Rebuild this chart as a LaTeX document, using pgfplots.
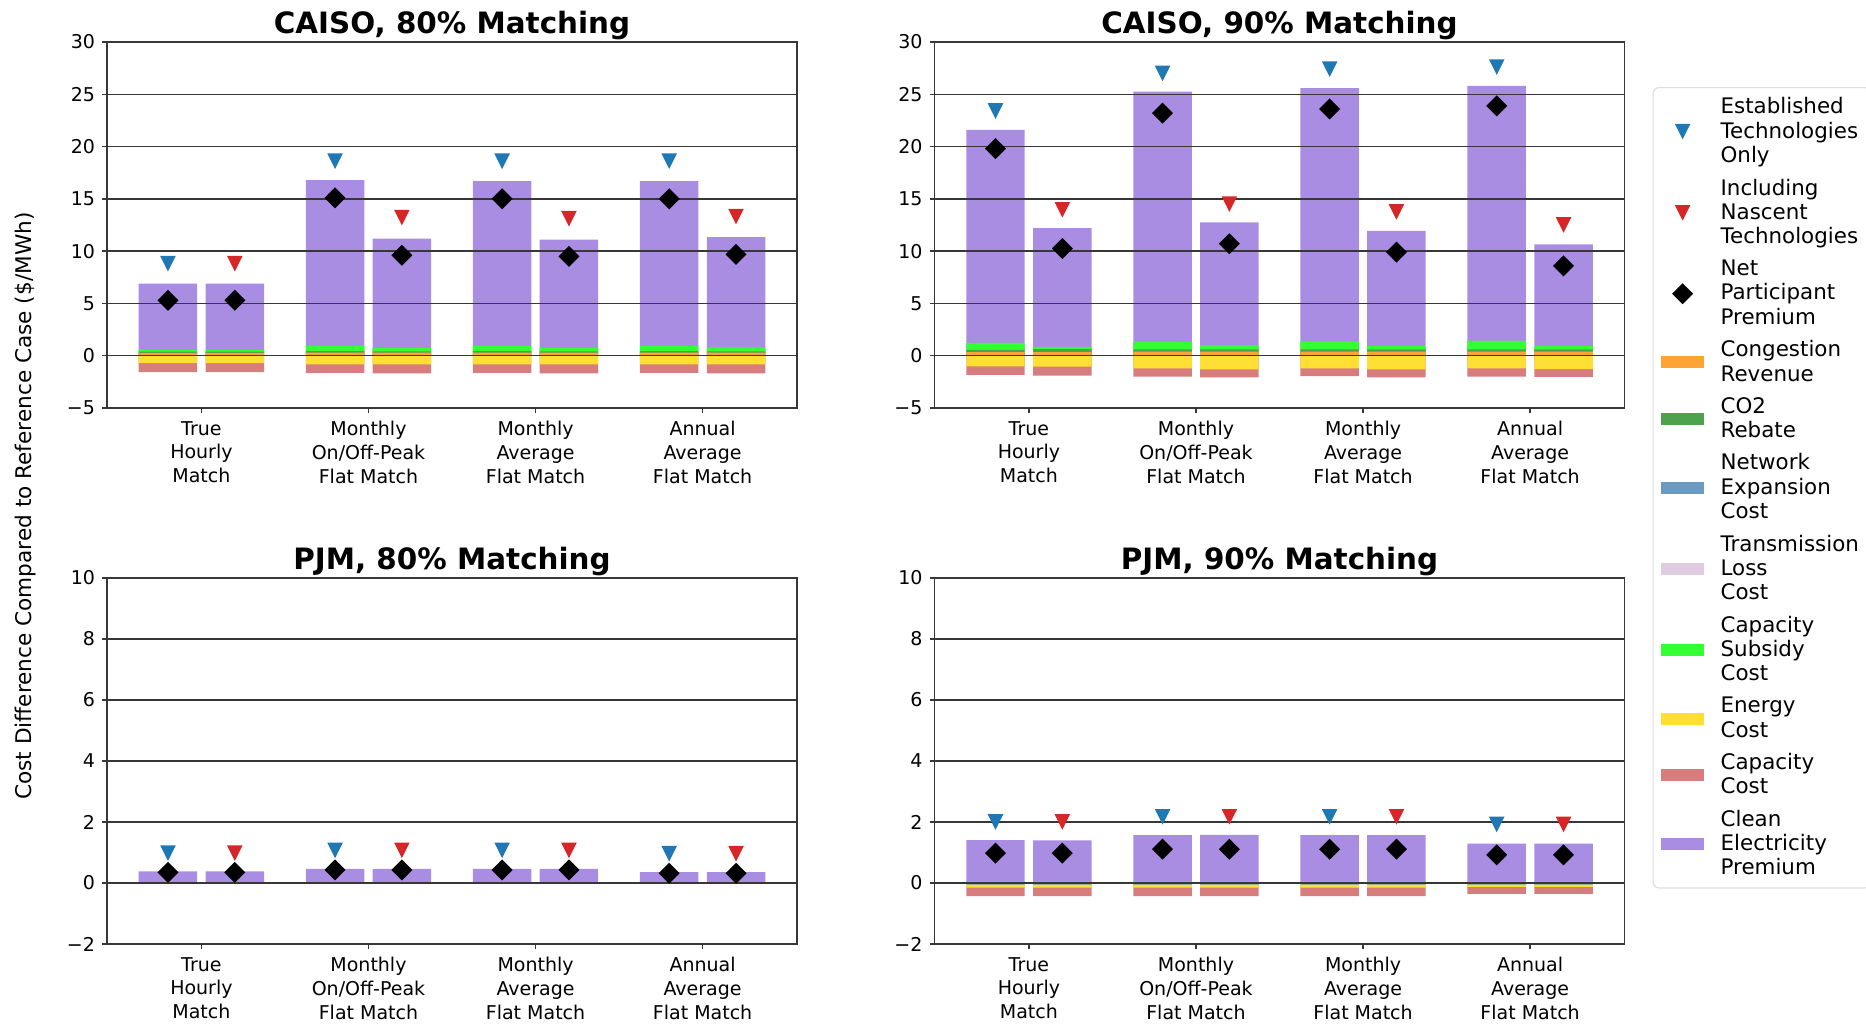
\documentclass[border=0pt]{standalone}
\usepackage{pgfplots}
\usepackage{pgfplotstable}
\pgfplotsset{compat=1.18}
\usepackage{fontspec}
\setmainfont{DejaVu Sans}

\definecolor{cPurple}{RGB}{169,141,226}
\definecolor{cLime}{RGB}{51,255,51}
\definecolor{cForest}{RGB}{78,162,78}
\definecolor{cSteel}{RGB}{107,155,195}
\definecolor{cThistle}{RGB}{224,204,224}
\definecolor{cOrange}{RGB}{255,163,51}
\definecolor{cGold}{RGB}{255,223,51}
\definecolor{cRed}{RGB}{215,125,125}
\definecolor{tabblue}{RGB}{31,119,180}
\definecolor{tabred}{RGB}{214,39,40}
\definecolor{axgray}{RGB}{55,55,55}

\pgfdeclareplotmark{dtri}{\pgfpathmoveto{\pgfqpoint{0pt}{-\pgfplotmarksize}}\pgfpathlineto{\pgfqpoint{-\pgfplotmarksize}{\pgfplotmarksize}}\pgfpathlineto{\pgfqpoint{\pgfplotmarksize}{\pgfplotmarksize}}\pgfpathclose\pgfusepathqfill}
\pgfdeclareplotmark{mdia}{\pgfpathmoveto{\pgfqpoint{0pt}{\pgfplotmarksize}}\pgfpathlineto{\pgfqpoint{\pgfplotmarksize}{0pt}}\pgfpathlineto{\pgfqpoint{0pt}{-\pgfplotmarksize}}\pgfpathlineto{\pgfqpoint{-\pgfplotmarksize}{0pt}}\pgfpathclose\pgfusepathqfill}

\newcommand\tickfont{\fontsize{9.5}{11.9}\selectfont}
\newcommand\titlefont{\bfseries\fontsize{14.7}{17}\selectfont}

% cumulative segment tops: pu=purple top, gr=capacity subsidy top, dg=CO2 top, or=congestion top,
% rd=capacity bottom, ye=energy bottom, bl=network bottom
\pgfplotstableread{
x pu gr dg or rd ye bl triE triN dia
-0.2 6.9 0.57 0.38 0.28 -1.58 -0.70 0 8.8 nan 5.3
0.2 6.9 0.57 0.38 0.28 -1.58 -0.70 0 nan 8.8 5.3
0.8 16.8 0.95 0.45 0.30 -1.65 -0.82 0 18.6 nan 15.1
1.2 11.2 0.76 0.42 0.30 -1.68 -0.82 0 nan 13.2 9.6
1.8 16.7 0.95 0.45 0.30 -1.65 -0.82 0 18.6 nan 15.0
2.2 11.1 0.76 0.42 0.30 -1.70 -0.84 0 nan 13.1 9.5
2.8 16.7 0.92 0.45 0.30 -1.65 -0.82 0 18.6 nan 15.0
3.2 11.35 0.79 0.42 0.30 -1.70 -0.84 0 nan 13.3 9.7
}\tabTL

\pgfplotstableread{
x pu gr dg or rd ye bl triE triN dia
-0.2 21.6 1.23 0.57 0.35 -1.84 -1.01 0 23.4 nan 19.8
0.2 12.2 0.85 0.63 0.35 -1.90 -1.04 0 nan 13.95 10.25
0.8 25.25 1.33 0.60 0.38 -2.00 -1.20 0 27.0 nan 23.2
1.2 12.75 0.98 0.60 0.38 -2.06 -1.30 0 nan 14.5 10.7
1.8 25.6 1.36 0.60 0.38 -1.96 -1.20 0 27.4 nan 23.6
2.2 11.95 0.95 0.60 0.38 -2.06 -1.30 0 nan 13.75 9.9
2.8 25.8 1.42 0.60 0.38 -2.00 -1.20 0 27.6 nan 23.9
3.2 10.65 0.95 0.60 0.38 -2.03 -1.27 0 nan 12.5 8.6
}\tabTR

\pgfplotstableread{
x pu gr dg or rd ye bl triE triN dia
-0.2 0.38 0.02 0.01 0 -0.03 -0.01 0 0.98 nan 0.35
0.2 0.38 0.02 0.01 0 -0.03 -0.01 0 nan 0.98 0.35
0.8 0.46 0.02 0.01 0 -0.03 -0.01 0 1.07 nan 0.43
1.2 0.46 0.02 0.01 0 -0.03 -0.01 0 nan 1.07 0.43
1.8 0.46 0.02 0.01 0 -0.03 -0.01 0 1.07 nan 0.43
2.2 0.46 0.02 0.01 0 -0.03 -0.01 0 nan 1.07 0.43
2.8 0.36 0.02 0.01 0 -0.03 -0.01 0 0.96 nan 0.32
3.2 0.36 0.02 0.01 0 -0.03 -0.01 0 nan 0.96 0.32
}\tabBL

\pgfplotstableread{
x pu gr dg or rd ye bl triE triN dia
-0.2 1.41 0.05 0.02 0 -0.43 -0.15 -0.05 2.0 nan 0.98
0.2 1.40 0.05 0.02 0 -0.43 -0.15 -0.05 nan 2.0 0.98
0.8 1.57 0.05 0.02 0 -0.43 -0.15 -0.05 2.17 nan 1.11
1.2 1.58 0.05 0.02 0 -0.43 -0.15 -0.05 nan 2.17 1.11
1.8 1.57 0.05 0.02 0 -0.43 -0.15 -0.05 2.17 nan 1.11
2.2 1.57 0.05 0.02 0 -0.43 -0.15 -0.05 nan 2.17 1.11
2.8 1.29 0.05 0.02 0 -0.36 -0.13 -0.05 1.92 nan 0.92
3.2 1.29 0.05 0.02 0 -0.36 -0.13 -0.05 nan 1.92 0.92
}\tabBR

\pgfplotsset{
  panel/.style={
    scale only axis, width=345pt, height=183pt,
    xmin=-0.565, xmax=3.565,
    xtick={0,1,2,3},
    xticklabels={{True\\Hourly\\Match},{Monthly\\On/Off-Peak\\Flat Match},{Monthly\\Average\\Flat Match},{Annual\\Average\\Flat Match}},
    xticklabel style={align=center, font=\tickfont, yshift=-0.6pt},
    yticklabel style={font=\tickfont},
    ymajorgrids, grid style={axgray, line width=0.75pt},
    axis line style={axgray, line width=0.75pt},
    tick style={axgray, line width=0.75pt},
    tick align=outside, major tick length=2.5pt,
    tick pos=left,
    axis on top,
    title style={at={(0.5,1)}, anchor=base, yshift=-1.9pt, font=\titlefont},
  },
  topy/.style={ymin=-5, ymax=30, ytick={-5,0,5,10,15,20,25,30}, yticklabels={−5,0,5,10,15,20,25,30}},
  boty/.style={ymin=-2, ymax=10, ytick={-2,0,2,4,6,8,10}, yticklabels={−2,0,2,4,6,8,10}},
  seg/.style={ybar, bar width=0.35, bar shift=0pt, draw=none, fill=#1, forget plot},
}

\newcommand\drawpanel[1]{%
  \addplot[seg=cPurple] table[x=x,y=pu]{#1};
  \addplot[seg=cLime] table[x=x,y=gr]{#1};
  \addplot[seg=cForest] table[x=x,y=dg]{#1};
  \addplot[seg=cOrange] table[x=x,y=or]{#1};
  \addplot[seg=cRed] table[x=x,y=rd]{#1};
  \addplot[seg=cGold] table[x=x,y=ye]{#1};
  \addplot[seg=cSteel] table[x=x,y=bl]{#1};
  \addplot[only marks, mark=dtri, mark size=3.9pt, color=tabblue, forget plot] table[x=x,y=triE]{#1};
  \addplot[only marks, mark=dtri, mark size=3.9pt, color=tabred, forget plot] table[x=x,y=triN]{#1};
  \addplot[only marks, mark=mdia, mark size=5.25pt, color=black, forget plot] table[x=x,y=dia]{#1};
}

\newcommand\patch[1]{\addlegendimage{legend image code/.code={\path[draw=none, sharp corners] (0pt,-3pt) rectangle (27.75pt,3pt);\fill[#1, draw=none, sharp corners] (0pt,-3pt) rectangle (21.5pt,3pt);}}}
\newcommand\mk[3]{\addlegendimage{legend image code/.code={\path[draw=none, sharp corners] (0pt,-3pt) rectangle (27.75pt,3pt);\draw[only marks, sharp corners, mark=#1, mark size=#3, color=#2, fill=#2] plot coordinates {(10.75pt,0pt)};}}}

\begin{document}
\begin{tikzpicture}
\useasboundingbox (0pt,0pt) rectangle (933pt,-511.5pt);

\begin{axis}[panel, topy, at={(53.5pt,-21pt)}, anchor=north west, title={CAISO, 80\% Matching}]
\drawpanel{\tabTL}
\end{axis}

\begin{axis}[panel, topy, at={(467.25pt,-21pt)}, anchor=north west, title={CAISO, 90\% Matching},
  legend style={at={(1.0406,0.877)}, anchor=north west, draw=black!13, line width=0.6pt, rounded corners=3pt,
    font=\fontsize{10.7}{12.2}\selectfont, cells={anchor=west, align=left}, row sep=2.55pt,
    inner xsep=4pt, inner ysep=3pt}]
\mk{dtri}{tabblue}{3.9pt}\addlegendentry{Established\\Technologies\\Only}
\mk{dtri}{tabred}{3.9pt}\addlegendentry{Including\\Nascent\\Technologies}
\mk{mdia}{black}{5.25pt}\addlegendentry{Net\\Participant\\Premium}
\patch{cOrange}\addlegendentry{Congestion\\Revenue}
\patch{cForest}\addlegendentry{CO2\\Rebate}
\patch{cSteel}\addlegendentry{Network\\Expansion\\Cost}
\patch{cThistle}\addlegendentry{Transmission\\Loss\\Cost}
\patch{cLime}\addlegendentry{Capacity\\Subsidy\\Cost}
\patch{cGold}\addlegendentry{Energy\\Cost}
\patch{cRed}\addlegendentry{Capacity\\Cost}
\patch{cPurple}\addlegendentry{Clean\\Electricity\\Premium}
\drawpanel{\tabTR}
\end{axis}

\begin{axis}[panel, boty, at={(53.5pt,-289pt)}, anchor=north west, title={PJM, 80\% Matching}]
\drawpanel{\tabBL}
\end{axis}

\begin{axis}[panel, boty, at={(467.25pt,-289pt)}, anchor=north west, title={PJM, 90\% Matching}]
\drawpanel{\tabBR}
\end{axis}

\node[rotate=90, font=\fontsize{10.8}{13}\selectfont] at (13pt,-253pt) {Cost Difference Compared to Reference Case (\$/MWh)};
\end{tikzpicture}
\end{document}
